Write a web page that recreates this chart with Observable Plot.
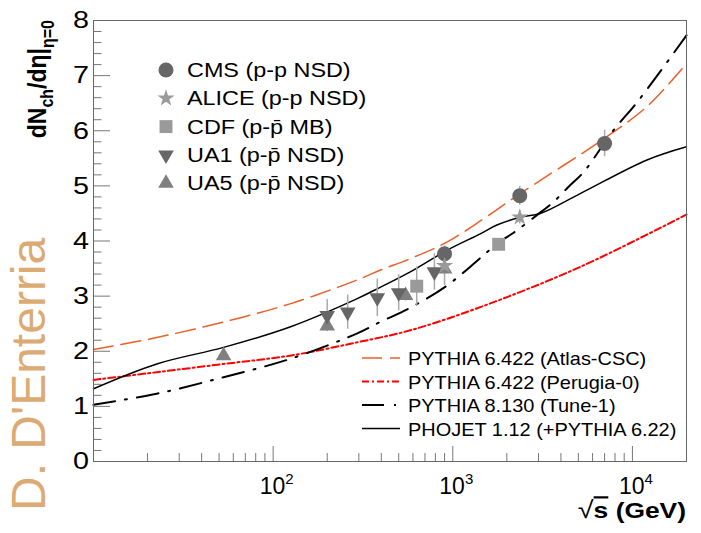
<!DOCTYPE html>
<html><head><meta charset="utf-8">
<script src="https://cdn.jsdelivr.net/npm/d3@7"></script>
<script src="https://cdn.jsdelivr.net/npm/@observablehq/plot@0.6"></script>
<style>body{margin:0;background:#fff} svg{display:block}</style>
</head><body><div id="chart"></div>
<script>
// ---------- data points (sqrt(s) in GeV, dNch/deta) ----------
const cmsX = [900, 2360, 7000];
const cmsY = [3.77, 4.82, 5.77];
const cmsErr = [0.14, 0.17, 0.24];
const aliceX = [900, 2360];
const aliceY = [3.55, 4.43];
const aliceErr = [0.1, 0.12];
const cdfX = [630, 1800];
const cdfY = [3.18, 3.94];
const cdfErr = [0.35, 0.1];
const ua1X = [200, 260, 380, 500, 790];
const ua1Y = [2.65, 2.71, 2.97, 3.06, 3.44];
const ua1Err = [0.29, 0.31, 0.34, 0.33, 0.33];
const ua5X = [53, 200, 546, 900];
const ua5Y = [1.92, 2.46, 3.01, 3.49];
const ua5Err = [0.04, 0.1, 0.1, 0.3];

// ---------- model curves ----------
const atlasX = [10, 22.5, 53, 124, 292, 394, 580, 927, 1480, 2370, 6900, 12050, 20000];
const atlasY = [2.03, 2.25, 2.53, 2.86, 3.29, 3.47, 3.68, 3.98, 4.40, 4.86, 5.85, 6.44, 7.22];
const perugiaX = [10, 22.5, 53, 124, 292, 580, 1422, 5120, 20000];
const perugiaY = [1.48, 1.62, 1.77, 1.92, 2.16, 2.38, 2.80, 3.53, 4.48];
const py8X = [10, 22.5, 53, 124, 292, 394, 580, 927, 1800, 2180, 2940, 3640, 4400, 5350, 7850, 10700, 20000];
const py8Y = [1.03, 1.23, 1.53, 1.86, 2.32, 2.53, 2.79, 3.19, 3.97, 4.15, 4.47, 4.71, 4.98, 5.25, 6.01, 6.53, 7.73];
const phojetX = [10, 22.5, 53, 124, 292, 394, 580, 927, 1422, 1760, 2370, 3070, 5120, 12050, 20000];
const phojetY = [1.32, 1.77, 2.07, 2.44, 2.95, 3.16, 3.44, 3.83, 4.13, 4.29, 4.43, 4.50, 4.86, 5.47, 5.71];

// ---------- ticks & labels ----------
const xMajorTicks = [100, 1000, 10000];
const xTickExponents = ["2", "3", "4"];
const xMinorTicks = [20, 30, 40, 50, 60, 70, 80, 90, 200, 300, 400, 500, 600, 700, 800, 900,
                     2000, 3000, 4000, 5000, 6000, 7000, 8000, 9000];
const yMajorTicks = [0, 1, 2, 3, 4, 5, 6, 7, 8];
const yTickLabels = ["0", "1", "2", "3", "4", "5", "6", "7", "8"];
const yMinorTicks = [0.2, 0.4, 0.6, 0.8, 1.2, 1.4, 1.6, 1.8, 2.2, 2.4, 2.6, 2.8, 3.2, 3.4, 3.6, 3.8,
                     4.2, 4.4, 4.6, 4.8, 5.2, 5.4, 5.6, 5.8, 6.2, 6.4, 6.6, 6.8, 7.2, 7.4, 7.6, 7.8];

const markerNames = ["CMS (p-p NSD)", "ALICE (p-p NSD)", "CDF (p-p\u0304 MB)", "UA1 (p-p\u0304 NSD)", "UA5 (p-p\u0304 NSD)"];
const curveNames = ["PYTHIA 6.422 (Atlas-CSC)", "PYTHIA 6.422 (Perugia-0)", "PYTHIA 8.130 (Tune-1)", "PHOJET 1.12 (+PYTHIA 6.22)"];

// ---------- styles ----------
const FONT = "'Liberation Sans', Arial, Helvetica, sans-serif";
const markerStyles = [
  {symbol: "circle", r: 7.5, fill: "#666666", rotate: 0},
  {symbol: "star", r: 5.4, fill: "#9a9a9a", rotate: 0},
  {symbol: "square", r: 7.3, fill: "#9a9a9a", rotate: 0},
  {symbol: "triangle", r: 5.8, fill: "#666666", rotate: 180},
  {symbol: "triangle", r: 5.8, fill: "#808080", rotate: 0}
];
const curveStyles = [
  {stroke: "#ec5f2a", strokeWidth: 1.5, strokeDasharray: "20,8"},
  {stroke: "#ff0000", strokeWidth: 2, strokeDasharray: "7,3,2,3"},
  {stroke: "#000000", strokeWidth: 2, strokeDasharray: "22,10,2,10"},
  {stroke: "#000000", strokeWidth: 1.5, strokeDasharray: null}
];

const toPts = (xs, ys, es) => xs.map((x, i) => ({x, y: ys[i], e: es ? es[i] : 0}));
const seriesPts = [
  toPts(cmsX, cmsY, cmsErr), toPts(aliceX, aliceY, aliceErr), toPts(cdfX, cdfY, cdfErr),
  toPts(ua1X, ua1Y, ua1Err), toPts(ua5X, ua5Y, ua5Err)
];
const curvePts = [toPts(atlasX, atlasY), toPts(perugiaX, perugiaY), toPts(py8X, py8Y), toPts(phojetX, phojetY)];

const W = 701, H = 533, mL = 93, mR = 15, mT = 20, mB = 72;
const innerW = W - mL - mR, innerH = H - mT - mB;

const drawOrder = [4, 3, 2, 0, 1];
const plot = Plot.plot({
  width: W, height: H,
  marginLeft: mL, marginRight: mR, marginTop: mT, marginBottom: mB,
  style: {fontFamily: FONT, background: "#fff"},
  x: {type: "log", domain: [10, 20000], axis: null},
  y: {domain: [0, 8], axis: null},
  marks: [
    Plot.tickX(xMinorTicks, {x: d => d, stroke: "#777", insetTop: innerH - 8}),
    Plot.tickX(xMajorTicks, {x: d => d, stroke: "#777", insetTop: innerH - 15}),
    Plot.tickY(yMinorTicks, {y: d => d, stroke: "#777", insetRight: innerW - 8.5}),
    Plot.tickY(yMajorTicks, {y: d => d, stroke: "#777", insetRight: innerW - 17}),
    ...curvePts.map((pts, i) => Plot.line(pts, {x: "x", y: "y", curve: "catmull-rom", ...curveStyles[i]})),
    ...seriesPts.map(pts => Plot.ruleX(pts, {x: "x", y1: d => d.y - d.e, y2: d => d.y + d.e, stroke: "#aaaaaa", strokeWidth: 1.5})),
    ...drawOrder.map(i => Plot.dot(seriesPts[i], {x: "x", y: "y", stroke: null, ...markerStyles[i]})),
    Plot.frame({stroke: "#666"})
  ]
});
document.getElementById("chart").appendChild(plot);

const sx = plot.scale("x"), sy = plot.scale("y");
const svg = d3.select(plot);
const g = svg.append("g").attr("font-family", FONT).attr("fill", "#000").attr("text-anchor", "start");

// y tick labels
yMajorTicks.forEach((v, i) => {
  g.append("text").attr("transform", `translate(${mL - 4},${sy.apply(v)}) scale(1.25,1)`)
    .attr("text-anchor", "end").attr("dy", "0.36em").attr("font-size", 23).text(yTickLabels[i]);
});
// x tick labels 10^n
xMajorTicks.forEach((v, i) => {
  const t = g.append("text").attr("x", sx.apply(v) + 4).attr("y", 494)
    .attr("text-anchor", "middle").attr("font-size", 23);
  t.append("tspan").text("10");
  t.append("tspan").attr("font-size", 15).attr("dy", -10).text(xTickExponents[i]);
});
// x axis title
const xt = g.append("text").attr("transform", `translate(${W - mR},518) scale(1.2,1)`).attr("text-anchor", "end")
  .attr("font-size", 22).attr("font-weight", "bold");
xt.append("tspan").attr("font-weight", "normal").attr("font-size", 24).text("\u221A");
xt.append("tspan").attr("text-decoration", "overline").text("s");
xt.append("tspan").text(" (GeV)");
// y axis title
const yt = g.append("text").attr("transform", `translate(46,${mT}) scale(1.15,1) rotate(-90)`).attr("text-anchor", "end")
  .attr("font-size", 23).attr("font-weight", "bold");
yt.append("tspan").text("dN");
yt.append("tspan").attr("font-size", 16).attr("dy", 6).text("ch");
yt.append("tspan").attr("dy", -6).text("/d\u03B7|");
yt.append("tspan").attr("font-size", 16).attr("dy", 7).text("\u03B7=0");
// watermark
g.append("text").attr("transform", `translate(45,511) rotate(-90)`).attr("font-size", 48)
  .attr("text-anchor", "start").attr("fill", "#dcab74").text("D. D'Enterria");

// top legend (markers)
markerNames.forEach((name, i) => {
  const yy = 70 + 28.3 * i, st = markerStyles[i];
  const sym = {circle: d3.symbolCircle, star: d3.symbolStar, square: d3.symbolSquare, triangle: d3.symbolTriangle}[st.symbol];
  g.append("path").attr("d", d3.symbol(sym, Math.PI * st.r * st.r)())
    .attr("transform", `translate(166,${yy}) rotate(${st.rotate})`).attr("fill", st.fill);
  g.append("text").attr("transform", `translate(187,${yy + 7}) scale(1.2,1)`).attr("text-anchor", "start")
    .attr("font-size", 19.5).text(name);
});
// bottom legend (curves)
curveNames.forEach((name, i) => {
  const yy = 358 + 23.5 * i, st = curveStyles[i];
  g.append("line").attr("x1", 362).attr("x2", 400).attr("y1", yy).attr("y2", yy)
    .attr("stroke", st.stroke).attr("stroke-width", st.strokeWidth)
    .attr("stroke-dasharray", st.strokeDasharray);
  g.append("text").attr("transform", `translate(408,${yy + 7}) scale(1.05,1)`).attr("text-anchor", "start")
    .attr("font-size", 19).text(name);
});
</script>
</body></html>
